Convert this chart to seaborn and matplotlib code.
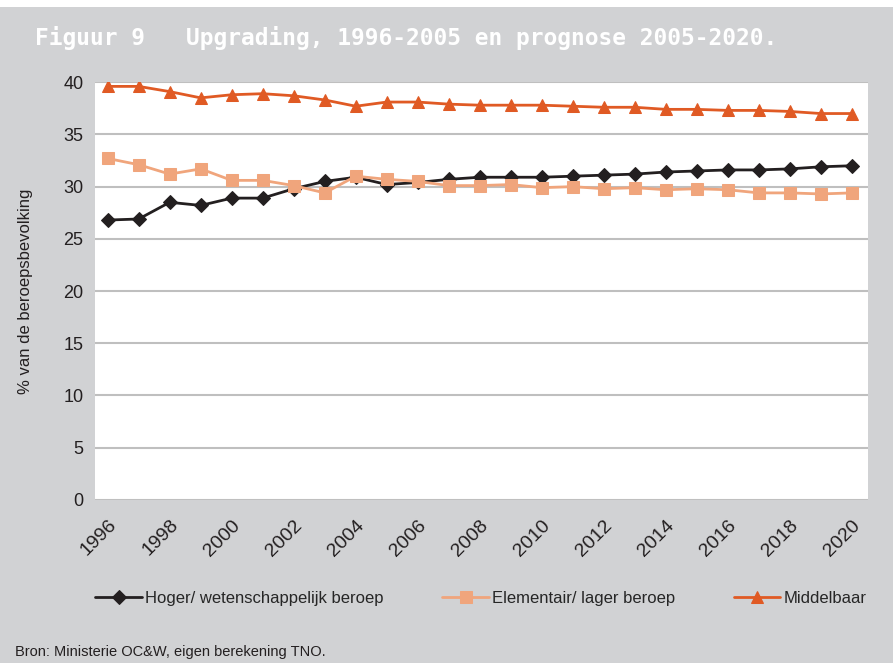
import seaborn as sns
import matplotlib.pyplot as plt
import pandas as pd

jaren = list(range(1996, 2021))

hoger = [26.8, 26.9, 28.5, 28.2, 28.9, 28.9, 29.8, 30.5, 30.9, 30.2, 30.4, 30.7, 30.9,
         30.9, 30.9, 31.0, 31.1, 31.2, 31.4, 31.5, 31.6, 31.6, 31.7, 31.9, 32.0]
elementair = [32.7, 32.1, 31.2, 31.7, 30.6, 30.6, 30.1, 29.4, 31.0, 30.7, 30.5, 30.1, 30.1,
              30.2, 29.9, 30.0, 29.8, 29.9, 29.7, 29.8, 29.7, 29.4, 29.4, 29.3, 29.4]
middelbaar = [39.6, 39.6, 39.1, 38.5, 38.8, 38.9, 38.7, 38.3, 37.7, 38.1, 38.1, 37.9, 37.8,
              37.8, 37.8, 37.7, 37.6, 37.6, 37.4, 37.4, 37.3, 37.3, 37.2, 37.0, 37.0]

reeksen = ["Hoger/ wetenschappelijk beroep", "Elementair/ lager beroep", "Middelbaar"]
kleuren = ["#231f20", "#f0a57c", "#e05a24"]
markers = ["D", "s", "^"]
msizes = [7.5, 9, 8]

df = pd.DataFrame({"jaar": jaren, reeksen[0]: hoger, reeksen[1]: elementair, reeksen[2]: middelbaar})
lang = df.melt(id_vars="jaar", var_name="reeks", value_name="pct")

sns.set_style("white")
plt.rcParams['font.family'] = ['Liberation Sans', 'DejaVu Sans']

grijs = "#d1d2d4"
fig = plt.figure(figsize=(8.93, 6.63), dpi=100, facecolor=grijs)
ax = fig.add_axes([0.106, 0.246, 0.866, 0.630])
ax.set_facecolor("white")

for naam, kleur, m, ms in zip(reeksen, kleuren, markers, msizes):
    sub = lang[lang["reeks"] == naam]
    sns.lineplot(data=sub, x="jaar", y="pct", ax=ax, color=kleur, marker=m,
                 markersize=ms, markeredgecolor=kleur, linewidth=2, label=naam, zorder=3)

ax.set_ylim(0, 40)
ax.set_yticks(range(0, 41, 5))
ax.set_xlim(1995.58, 2020.52)
ax.set_xticks(range(1996, 2021, 2))
ax.yaxis.grid(True, color="#bfbfbf", linewidth=1.5)
ax.set_axisbelow(True)
for s in ax.spines.values():
    s.set_visible(False)
ax.tick_params(axis="y", length=0, labelsize=13, colors="#231f20", pad=8)
ax.tick_params(axis="x", length=0, labelsize=14, colors="#231f20", pad=12)
plt.setp(ax.get_xticklabels(), rotation=45, ha="right", rotation_mode="anchor")
ax.set_xlabel("")
ax.set_ylabel("% van de beroepsbevolking", fontsize=12, color="#231f20", labelpad=22)

ax.get_legend().remove()
h, l = ax.get_legend_handles_labels()
fig.legend(h, l, loc="center left", bbox_to_anchor=(0.09, 0.098), ncol=3, frameon=False,
           fontsize=12, columnspacing=3.5, handlelength=2.8, handletextpad=0.2)

# witte strook bovenaan
fig.patches.append(plt.Rectangle((0, 0.989), 1, 0.011, transform=fig.transFigure,
                                 facecolor="white", edgecolor="none"))
fig.text(0.039, 0.942, "Figuur 9", color="white", fontsize=16.5, fontweight="bold",
         va="center", family="DejaVu Sans Mono")
fig.text(0.208, 0.942, "Upgrading, 1996-2005 en prognose 2005-2020.", color="white",
         fontsize=16.5, fontweight="bold", va="center", family="DejaVu Sans Mono")
fig.text(0.017, 0.016, "Bron: Ministerie OC&W, eigen berekening TNO.", fontsize=10.5,
         color="#231f20", va="center")

plt.savefig("out.png", dpi=100, facecolor=grijs)
